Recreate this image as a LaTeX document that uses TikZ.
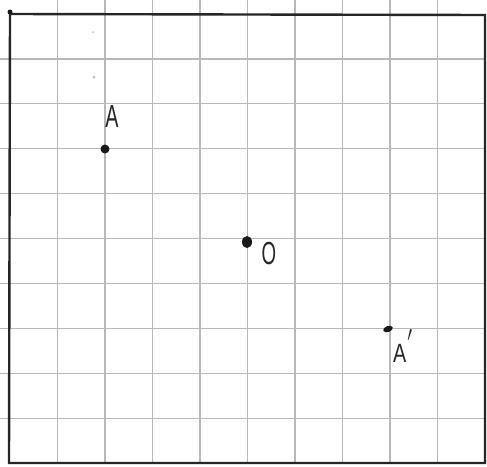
\documentclass[tikz,border=0pt]{standalone}
\usepackage{fontspec}
\setmainfont{Liberation Sans}
\usetikzlibrary{shapes.geometric}
\begin{document}
\begin{tikzpicture}[x=1pt,y=-1pt,
  gridline/.style={draw=black!28,line width=1.2pt},
  frame/.style={draw=black!85,line width=2.4pt},
  dot/.style={circle,fill=black!90,inner sep=0pt},
  speck/.style={circle,fill=black!25,inner sep=0pt,minimum size=3pt},
  hand/.style={font=\fontsize{22}{22}\selectfont,text=black!85,inner sep=0pt}]
\useasboundingbox (0,0) rectangle (487,466);
\fill[white] (0,0) rectangle (487,466);
% vertical grid lines
\foreach \i in {1,...,9}
  \draw[gridline] ({10+47.5*\i},0) -- ({10+47.5*\i},463);
% horizontal grid lines
\foreach \j in {1,...,9}
  \draw[gridline] (0,{14+44.9*\j}) -- (485,{14+44.9*\j});
% frame
\draw[frame] (10,14) -- (485,15) -- (485,463) -- (9,463) -- cycle;
\node[dot,minimum size=5pt] (corner) at (10,12) {};
% faint specks
\node[speck] (s1) at (94,77) {};
\node[speck,minimum size=2pt] (s2) at (93,32) {};
% points
\node[dot,minimum size=9pt] (A) at (105,149) {};
\node[ellipse,fill=black!90,inner sep=0pt,minimum width=10pt,minimum height=12pt] (O) at (247,242) {};
\node[ellipse,fill=black!90,inner sep=0pt,minimum width=10pt,minimum height=6pt,rotate=20] (A1) at (388,329) {};
% labels
\node[hand] (lA) at (112,117) {\scalebox{0.9}[1.45]{A}};
\node[hand] (lO) at (269,254) {\scalebox{0.85}[1.45]{O}};
\node[hand] (lA1) at (403,346) {\scalebox{0.9}[1.2]{A}\kern1pt\raisebox{9pt}{\scalebox{1.2}[1.5]{$'$}}};
\end{tikzpicture}
\end{document}
